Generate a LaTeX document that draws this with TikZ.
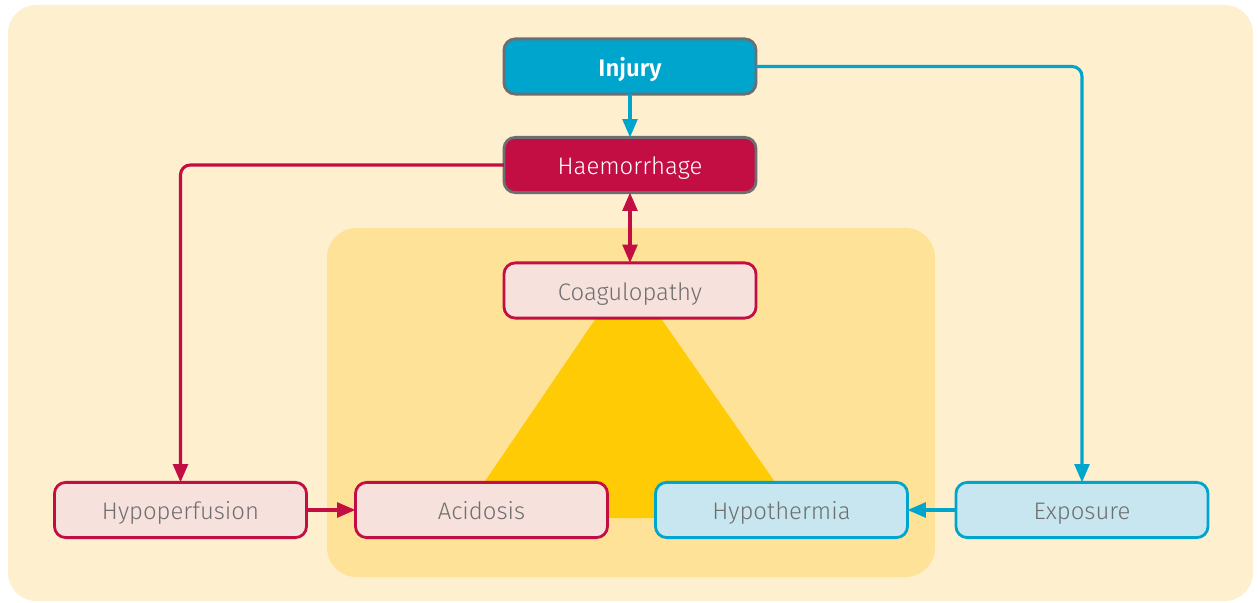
\documentclass[tikz,border=0pt]{standalone}
\usepackage{fontspec}
\setmainfont{Fira Sans}[UprightFont={* Light}, BoldFont={* SemiBold}]
\usetikzlibrary{arrows.meta}
\definecolor{outerbg}{HTML}{FEEFCF}
\definecolor{innerbg}{HTML}{FEE297}
\definecolor{trigold}{HTML}{FFCB05}
\definecolor{injblue}{HTML}{00A5CE}
\definecolor{haemred}{HTML}{C20E43}
\definecolor{boxgrey}{HTML}{6D6E71}
\definecolor{palered}{HTML}{F7E1DD}
\definecolor{paleblue}{HTML}{C7E6F0}
\definecolor{txtgrey}{HTML}{6F6F6F}
\tikzset{
  box/.style={rounded corners=8pt, line width=2pt, minimum width=6.3cm, minimum height=1.38cm,
    font=\fontsize{17}{20}\selectfont, inner sep=0pt, text height=13.7pt, text depth=0pt},
  darkbox/.style={box, draw=boxgrey, text=white},
  redbox/.style={box, draw=haemred, fill=palered, text=txtgrey},
  bluebox/.style={box, draw=injblue, fill=paleblue, text=txtgrey},
  redarrow/.style={draw=haemred, line width=2.2pt, -{Triangle[length=13pt,width=10.5pt]}, shorten >=-1pt, shorten <=-1pt},
  bluearrow/.style={draw=injblue, line width=2.2pt, -{Triangle[length=13pt,width=10.5pt]}, shorten >=-1pt, shorten <=-1pt}
}

\begin{document}
\begin{tikzpicture}[x=0.025cm, y=-0.025cm]
			%%%%% START %%%%%
			
			\useasboundingbox (0, 0) rectangle (1258, 603);
			\fill[outerbg, rounded corners=20pt] (8, 5) rectangle (1253, 601);
			\fill[innerbg, rounded corners=21pt] (327, 228) rectangle (935, 577);
			\fill[trigold] (628, 271) -- (460, 518) -- (800, 518) -- cycle;
			
			\node[darkbox, fill=injblue, font=\fontsize{17}{20}\selectfont\bfseries] (injury) at (630, 66.5) {Injury};
			\node[darkbox, fill=haemred] (haem) at (630, 165) {Haemorrhage};
			\node[redbox] (coag) at (630, 290.5) {Coagulopathy};
			\node[redbox] (hypoperf) at (180.5, 510) {Hypoperfusion};
			\node[redbox] (acid) at (481.5, 510) {Acidosis};
			\node[bluebox] (hypotherm) at (781.5, 510) {Hypothermia};
			\node[bluebox] (exposure) at (1082, 510) {Exposure};
			
			\draw[bluearrow] (injury) -- (haem);
			\draw[bluearrow, rounded corners=7pt] (injury.east) -| (exposure.north);
			\draw[redarrow, rounded corners=7pt] (haem.west) -| (hypoperf.north);
			\draw[redarrow, {Triangle[length=13pt,width=10.5pt]}-{Triangle[length=13pt,width=10.5pt]}] (haem) -- (coag);
			\draw[redarrow] (hypoperf) -- (acid);
			\draw[bluearrow] (exposure) -- (hypotherm);
			
			%%%%% END %%%%%
\end{tikzpicture}
\end{document}
